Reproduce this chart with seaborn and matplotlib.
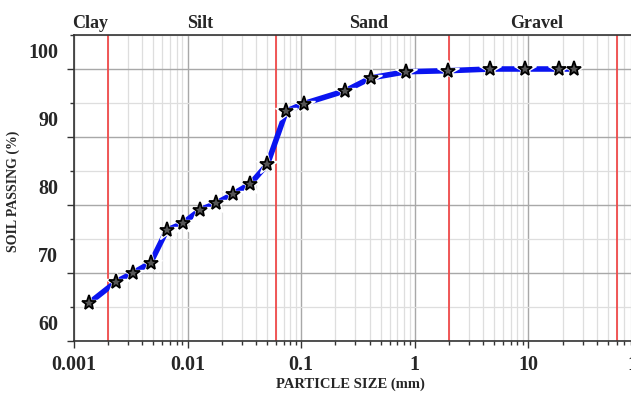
import matplotlib
matplotlib.use("Agg")
import matplotlib.pyplot as plt
import matplotlib.ticker as mticker
import seaborn as sns
import pandas as pd

# grain size distribution
size_mm = [0.00136, 0.00234, 0.00333, 0.00473, 0.00656, 0.00906, 0.0129, 0.0178,
           0.025, 0.0356, 0.0505, 0.0738, 0.105, 0.245, 0.411, 0.841,
           1.96, 4.62, 9.41, 18.5, 25.1]
passing = [65.6, 68.7, 70.05, 71.5, 76.3, 77.3, 79.3, 80.25,
           81.6, 83.1, 86.0, 93.8, 94.9, 96.8, 98.7, 99.6,
           99.75, 100.0, 100.0, 100.0, 100.0]

# soil class boundaries (mm) and class names
boundaries = [0.002, 0.06, 2, 60]
classes = ["Clay", "Silt", "Sand", "Gravel"]
class_x = [0.00138, 0.0128, 0.39, 11.8]

x_ticks = [0.001, 0.01, 0.1, 1, 10, 100]
x_labels = ["0.001", "0.01", "0.1", "1", "10", "100"]
y_ticks = [60, 70, 80, 90, 100]

df = pd.DataFrame({"size": size_mm, "passing": passing})

sns.set_style("white")
plt.rcParams["font.family"] = ["Liberation Serif", "DejaVu Serif"]

fig = plt.figure(figsize=(6.31, 3.96), dpi=100)
ax = fig.add_axes([74 / 631, 55 / 396, 568 / 631, 306 / 396])

ax.set_xscale("log")
ax.set_xlim(0.001, 100)
ax.set_ylim(60, 105)

# grid
ax.xaxis.set_minor_locator(mticker.LogLocator(base=10, subs=range(2, 10)))
ax.yaxis.set_minor_locator(mticker.MultipleLocator(5))
ax.grid(True, which="major", color="#a8a8a8", lw=1.0)
ax.grid(True, which="minor", color="#dedede", lw=0.9)
ax.set_axisbelow(True)

for b in boundaries:
    ax.axvline(b, color="#f04a4a", lw=1.3, zorder=1)

sns.lineplot(data=df, x="size", y="passing", ax=ax, color="#0a14f0", lw=4,
             zorder=2)
# white halo then star markers
ax.plot(df["size"], df["passing"], ls="none", marker="*", ms=16, mfc="white",
        mec="white", zorder=3)
ax.plot(df["size"], df["passing"], ls="none", marker="*", ms=11, mfc="#555555",
        mec="black", mew=1.3, zorder=4)

ax.set_xticks(x_ticks)
ax.set_xticklabels(x_labels, fontsize=14.5, fontweight="bold")
ax.set_yticks(y_ticks)
ax.set_yticklabels([])
ax.xaxis.set_minor_formatter(mticker.NullFormatter())
for v in y_ticks:
    ax.text(-0.028, v + 2.3, str(v), transform=ax.get_yaxis_transform(),
            ha="right", va="center", fontsize=14.5, fontweight="bold")

ax.tick_params(axis="both", which="major", direction="out", length=5, width=1,
               color="#333333", bottom=True, left=True, pad=5)
ax.tick_params(axis="both", which="minor", direction="out", length=3, width=1,
               color="#333333", bottom=True, left=True)

for s in ["left", "bottom", "top"]:
    ax.spines[s].set_color("#333333")
    ax.spines[s].set_linewidth(1.2)
ax.spines["right"].set_visible(False)

for name, cx in zip(classes, class_x):
    ax.text(cx, 1.01, name, transform=ax.get_xaxis_transform(), ha="center",
            va="bottom", fontsize=13, fontweight="bold")

ax.set_xlabel("PARTICLE SIZE (mm)", fontsize=10.5, fontweight="bold")
ax.set_ylabel("SOIL PASSING (%)", fontsize=10, fontweight="bold")
ax.xaxis.set_label_coords(0.486, -0.118)
ax.yaxis.set_label_coords(-0.095, 0.49)

fig.savefig("out.png", dpi=100)
